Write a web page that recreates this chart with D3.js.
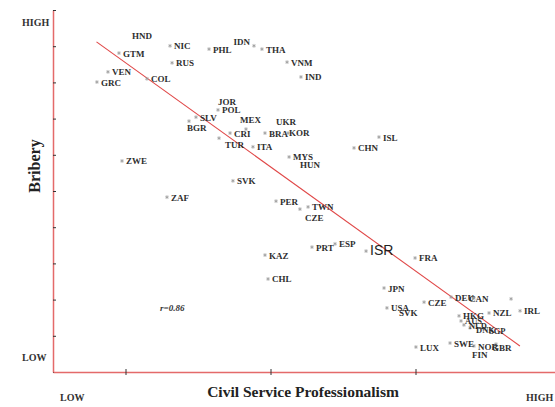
<!DOCTYPE html>
<html><head><meta charset="utf-8">
<script src="https://cdn.jsdelivr.net/npm/d3@7"></script>
<style>
body{margin:0;background:#fff;}
svg{display:block;}
</style></head>
<body>
<svg id="c" width="555" height="407"></svg>
<script>
// ---- data ----
const countries = ["HND","GTM","NIC","PHL","IDN","THA","VNM","IND","RUS","VEN","GRC","COL",
  "JOR","POL","SLV","BGR","MEX","CRI","TUR","ITA","UKR","BRA","KOR","ISL","CHN","MYS","HUN",
  "ZWE","ZAF","SVK","PER","TWN","CZE","PRT","ESP","ISR","FRA","KAZ","CHL","JPN","USA","SVK",
  "CZE","DEU","CAN","","IRL","HKG","NZL","AUS","NLD","DNK","SGP","LUX","SWE","NOR","GBR","FIN"];
const professionalism = [0.51,0.455,0.807,1.076,1.386,1.441,1.614,1.710,0.821,0.379,0.303,0.648,
  1.110,1.138,0.986,0.938,1.331,1.221,1.145,1.379,1.510,1.462,1.621,2.248,2.076,1.628,1.676,
  0.476,0.786,1.241,1.538,1.759,1.703,1.786,1.945,2.159,2.497,1.462,1.483,2.283,2.303,2.359,
  2.559,2.745,2.903,3.159,3.221,2.800,3.007,2.814,2.834,2.876,2.972,2.503,2.738,2.903,3.055,2.862];
const bribery = [8.90,8.81,9.01,8.92,9.01,8.92,8.56,8.15,8.54,8.29,8.01,8.10,
  7.46,7.24,7.04,6.93,6.71,6.60,6.46,6.22,6.91,6.60,6.60,6.49,6.19,5.94,5.80,
  5.83,4.83,5.28,4.72,4.56,4.50,3.45,3.54,3.34,3.15,3.23,2.57,2.32,1.77,1.66,
  1.93,2.07,2.04,2.02,1.69,1.55,1.63,1.41,1.30,1.22,1.19,0.69,0.80,0.72,0.77,0.50];
const trendX = [0.30, 3.22];
const trendY = [9.12, 0.72];
const yTicks = [0,1,2,3,4,5,6,7,8,9,10];
const xTicks = [0.5,1.5,2.5];
const xAxisLabels = ["LOW","HIGH"];
const yAxisLabels = ["LOW","HIGH"];
const rText = "r=0.86";

// ---- label placement tweaks (style only) ----
const labelOffset = {
  0:[5,-11], 4:[-4,-1,"end"], 15:[-2,10], 16:[-6,-6], 18:[6,10], 22:[1,3], 26:[4,6],
  32:[5,12], 41:[4,4], 44:[-5,4], 49:[4,3], 50:[5,4], 51:[6,5], 52:[5,5],
  55:[4,4], 56:[-4,7], 57:[4,4]
};
const hidden = new Set([0,12,20,26,41,57]);

const svg = d3.select("#c");
const x = d3.scaleLinear().domain([0, 3.462]).range([53, 555]);
const y = d3.scaleLinear().domain([0, 10]).range([372, 10]);
const axisColor = "#e46a6a";
const serif = "'Liberation Serif','Times New Roman',serif";

// y axis
const ya = svg.append("g").attr("transform","translate(53,0)")
  .call(d3.axisRight(y).tickValues(yTicks).tickSizeInner(3).tickSizeOuter(0).tickFormat(""));
ya.select(".domain").attr("stroke",axisColor).attr("stroke-width",1.5);
ya.selectAll(".tick line").attr("stroke","#333").attr("stroke-width",1);

// x axis
const xa = svg.append("g").attr("transform","translate(0,372)")
  .call(d3.axisBottom(x).tickValues(xTicks).tickSizeInner(3).tickSizeOuter(0).tickFormat(""));
xa.select(".domain").attr("stroke",axisColor).attr("stroke-width",1.5);
xa.selectAll(".tick line").attr("stroke","#333").attr("y1",-3).attr("y2",3);

// trend line
svg.append("line")
  .attr("x1",x(trendX[0])).attr("y1",y(trendY[0]))
  .attr("x2",x(trendX[1])).attr("y2",y(trendY[1]))
  .attr("stroke","#e04848").attr("stroke-width",1.1);

// points
const data = countries.map((c,i)=>({c,i,px:professionalism[i],py:bribery[i]}));
const ast = d3.symbol().type(d3.symbolAsterisk).size(10);
svg.append("g").selectAll("path").data(data.filter(d=>!hidden.has(d.i))).join("path")
  .attr("d",ast)
  .attr("transform",d=>`translate(${x(d.px)},${y(d.py)})`)
  .attr("stroke","#999").attr("stroke-width",0.8).attr("fill","none");

const cluster = new Set([49,50,51,52]);
svg.append("g").selectAll("text").data(data.filter(d=>d.c)).join("text")
  .attr("x",d=>x(d.px)+(labelOffset[d.i]?labelOffset[d.i][0]:4))
  .attr("y",d=>y(d.py)+(labelOffset[d.i]?labelOffset[d.i][1]:3.5))
  .attr("text-anchor",d=>(labelOffset[d.i]&&labelOffset[d.i][2])||"start")
  .attr("font-family",d=>d.c==="ISR"?"'Liberation Sans',Arial,sans-serif":serif)
  .attr("font-weight",d=>d.c==="ISR"?"normal":"bold")
  .attr("font-size",d=>d.c==="ISR"?"14px":(cluster.has(d.i)?"8.5px":"9px"))
  .attr("fill",d=>d.c==="ISR"?"#222":"#2e2e2e")
  .text(d=>d.c);

// axis text
svg.append("text").attr("x",303).attr("y",397).attr("text-anchor","middle")
  .attr("font-family",serif).attr("font-weight","bold").attr("font-size","15.5px").attr("fill","#222")
  .text("Civil Service Professionalism");
svg.append("text").attr("transform","translate(40,166) rotate(-90)").attr("text-anchor","middle")
  .attr("font-family",serif).attr("font-weight","bold").attr("font-size","16px").attr("fill","#222")
  .text("Bribery");
svg.append("text").attr("x",22).attr("y",26).attr("font-family",serif).attr("font-weight","bold")
  .attr("font-size","10px").attr("fill","#333").text(yAxisLabels[1]);
svg.append("text").attr("x",22).attr("y",361).attr("font-family",serif).attr("font-weight","bold")
  .attr("font-size","10px").attr("fill","#333").text(yAxisLabels[0]);
svg.append("text").attr("x",60).attr("y",401).attr("font-family",serif).attr("font-weight","bold")
  .attr("font-size","10px").attr("fill","#333").text(xAxisLabels[0]);
svg.append("text").attr("x",526).attr("y",401).attr("font-family",serif).attr("font-weight","bold")
  .attr("font-size","10px").attr("fill","#333").text(xAxisLabels[1]);
svg.append("text").attr("x",160).attr("y",311).attr("font-family",serif).attr("font-weight","bold")
  .attr("font-style","italic").attr("font-size","9px").attr("fill","#333").text(rText);
</script>
</body></html>
